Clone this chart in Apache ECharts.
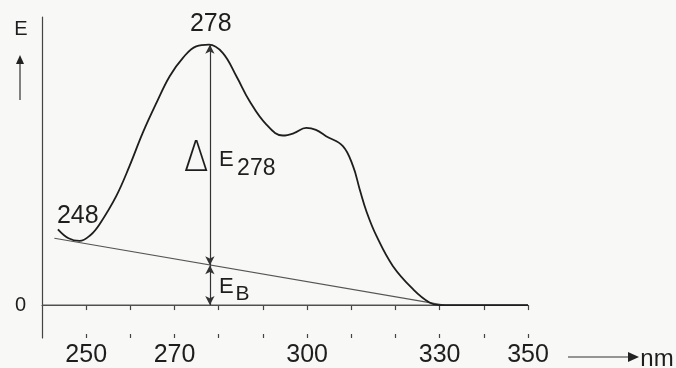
<!DOCTYPE html>
<html>
<head>
<meta charset="utf-8">
<script src="https://cdn.jsdelivr.net/npm/echarts@6/dist/echarts.min.js"></script>
<style>
  html, body { margin: 0; padding: 0; background: #f8f8f6; }
  #main { width: 676px; height: 368px; }
</style>
</head>
<body>
<div id="main"></div>
<script>
var waveNm = [243.6, 246, 248.5, 251, 253, 256.8, 259.8, 262.8, 265.9, 268.9, 271.9, 274.9, 277.8,
    280.9, 284.0, 287.0, 290.8, 294.5, 297, 299.8, 302, 304.3, 308.1, 310.4, 311.9, 313.5,
    315.7, 319.4, 324, 327.7, 330, 350];
var extinction = [0.230, 0.203, 0.195, 0.213, 0.245, 0.331, 0.422, 0.523, 0.614, 0.695, 0.751, 0.786, 0.791,
    0.766, 0.695, 0.619, 0.548, 0.515, 0.522, 0.538, 0.532, 0.513, 0.483, 0.422, 0.352, 0.282,
    0.210, 0.119, 0.048, 0.008, 0, 0];
var baseNm = [242.8, 331];
var baseE = [0.203, 0];
var zeroNm = [240, 350];
var zeroE = [0, 0];
var peakNm = 278, peakE = 0.791, peakBaseE = 0.121;
var tickValues = [250, 260, 270, 280, 290, 300, 310, 320, 330, 340, 350];
var labelValues = [250, 270, 300, 330, 350];

var font = 'Liberation Sans';
var ink = '#1e1e1e';

function pairs(xs, ys) {
    var out = [];
    for (var i = 0; i < xs.length; i++) out.push([xs[i], ys[i]]);
    return out;
}

var chart = echarts.init(document.getElementById('main'));

chart.setOption({
    backgroundColor: '#f8f8f6',
    animation: false,
    grid: { left: 42, right: 148, top: 17, bottom: 29 },
    xAxis: [{
        type: 'value', min: 240, max: 350, interval: 10,
        position: 'bottom',
        splitLine: { show: false },
        axisLine: { lineStyle: { color: '#444', width: 1.2 } },
        axisTick: { customValues: tickValues, length: 5, lineStyle: { color: '#444', width: 1.2 } },
        axisLabel: { customValues: labelValues, fontFamily: font, fontSize: 25, color: ink, margin: 5 }
    }, {
        type: 'value', min: 240, max: 350, interval: 10,
        position: 'bottom',
        splitLine: { show: false },
        axisLine: { show: false },
        axisTick: { customValues: tickValues, inside: true, length: 4, lineStyle: { color: '#444', width: 1.2 } },
        axisLabel: { show: false }
    }],
    yAxis: {
        type: 'value', min: -0.1, max: 0.875,
        splitLine: { show: false },
        axisLine: { show: true, lineStyle: { color: '#444', width: 1.2 } },
        axisTick: { show: false },
        axisLabel: { customValues: [0], fontFamily: font, fontSize: 20, color: ink, margin: 16 }
    },
    series: [{
        name: 'zero', type: 'line', data: pairs(zeroNm, zeroE),
        symbol: 'none', lineStyle: { color: '#555', width: 1.2 }, silent: true
    }, {
        name: 'base', type: 'line', data: pairs(baseNm, baseE),
        symbol: 'none', lineStyle: { color: '#555', width: 1.2 }, silent: true,
        markLine: {
            silent: true, symbol: ['arrow', 'arrow'], symbolSize: [7, 9],
            label: { show: false },
            lineStyle: { color: '#333', width: 1.2, type: 'solid' },
            data: [
                [{ coord: [peakNm, peakBaseE] }, { coord: [peakNm, peakE] }],
                [{ coord: [peakNm, 0] }, { coord: [peakNm, peakBaseE] }]
            ]
        }
    }, {
        name: 'E', type: 'line', data: pairs(waveNm, extinction),
        smooth: 0.4, symbol: 'none', lineStyle: { color: ink, width: 1.8 }, silent: true
    }]
});

// Beschriftungen im Diagramm (Lage in nm / E)
function textAt(text, px, py, size, family) {
    return {
        type: 'text', x: px, y: py, z: 10,
        style: { text: text, fontSize: size, fontFamily: family || font, fill: ink, align: 'center', verticalAlign: 'middle' }
    };
}
function note(text, x, y, size, family) {
    var p = chart.convertToPixel({ gridIndex: 0 }, [x, y]);
    return textAt(text, p[0], p[1], size, family);
}

var deltaEl = note('Δ', 274.9, 0.44, 28, 'DejaVu Sans');
deltaEl.style.fontWeight = 200;
deltaEl.scaleX = 1.3;
deltaEl.scaleY = 1.5;

chart.setOption({
    graphic: [
        note('278', 278.2, 0.852, 25),
        note('248', 248.1, 0.27, 25),
        deltaEl,
        note('E', 281.7, 0.44, 22),
        note('278', 288.5, 0.414, 23),
        note('E', 281.7, 0.054, 22),
        note('B', 285.4, 0.034, 21),
        textAt('E', 21, 29, 20),
        { type: 'line', shape: { x1: 20, y1: 100, x2: 20, y2: 62 }, style: { stroke: '#333', lineWidth: 1.2 } },
        { type: 'polygon', shape: { points: [[16, 64], [24, 64], [20, 55]] }, style: { fill: '#222' } },
        { type: 'line', shape: { x1: 568, y1: 357, x2: 630, y2: 357 }, style: { stroke: '#333', lineWidth: 1.2 } },
        { type: 'polygon', shape: { points: [[628, 352], [628, 362], [639, 357]] }, style: { fill: '#222' } },
        textAt('nm', 657, 359, 24)
    ]
});
</script>
</body>
</html>
